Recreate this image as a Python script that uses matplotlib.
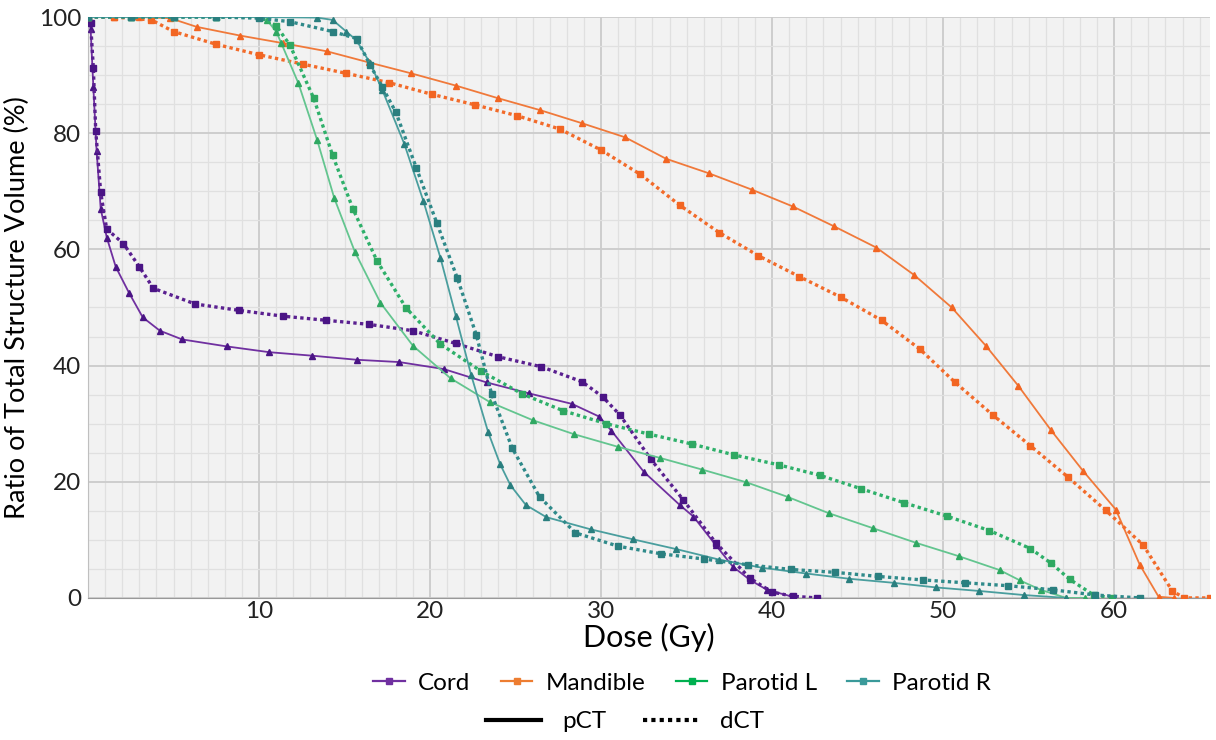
import numpy as np
import matplotlib
matplotlib.use('Agg')
import matplotlib.pyplot as plt
from matplotlib.lines import Line2D
from matplotlib.ticker import MultipleLocator

plt.rcParams['font.family'] = ['Lato', 'DejaVu Sans']

# Cord
cord_p_x = [0, 0.15, 0.31, 0.5, 0.74, 1.1, 1.62, 2.4, 3.2, 4.2, 5.5, 8.1, 10.6, 13.1, 15.7, 18.2,
            20.8, 23.3, 25.8, 28.3, 29.9, 30.6, 32.5, 34.6, 35.4, 36.7, 37.7, 38.7, 39.7, 41.2]
cord_p_y = [100, 98, 88, 77, 67, 62, 57, 52.5, 48.3, 46, 44.5, 43.3, 42.3, 41.7, 41.0, 40.6,
            39.4, 37.1, 35.2, 33.4, 31.2, 28.8, 21.7, 16.0, 14.0, 9.1, 5.4, 3.1, 1.4, 0.2]
cord_d_x = [0, 0.15, 0.31, 0.45, 0.74, 1.09, 2.07, 3.0, 3.82, 6.26, 8.83, 11.4, 13.9, 16.4, 19.0,
            21.5, 24.0, 26.5, 28.9, 30.1, 31.1, 32.9, 34.8, 36.7, 38.7, 40.0, 41.2, 42.6]
cord_d_y = [100, 99, 91.2, 80.4, 69.8, 63.5, 61.0, 57, 53.3, 50.6, 49.5, 48.5, 47.8, 47.1, 46.0,
            43.8, 41.5, 39.8, 37.2, 34.6, 31.5, 23.9, 16.9, 9.5, 3.4, 1.0, 0.3, 0]

# Mandible
mand_p_x = [0, 1.5, 3.0, 4.8, 6.36, 8.9, 11.4, 13.96, 16.4, 18.9, 21.5, 24.0, 26.4, 28.9, 31.4,
            33.8, 36.3, 38.8, 41.2, 43.6, 46.1, 48.3, 50.5, 52.5, 54.4, 56.3, 58.2, 60.1, 61.5,
            62.6, 63.5]
mand_p_y = [100, 100, 100, 99.8, 98.3, 96.8, 95.5, 94.1, 92.2, 90.3, 88.2, 86.0, 84.0, 81.7, 79.3,
            75.6, 73.1, 70.3, 67.4, 64.0, 60.3, 55.6, 50.0, 43.4, 36.5, 28.9, 21.8, 15.2, 5.7,
            0.2, 0]
mand_d_x = [0, 1.5, 3.7, 5.0, 7.5, 10.0, 12.55, 15.1, 17.6, 20.1, 22.6, 25.1, 27.6, 30.0, 32.3,
            34.6, 36.9, 39.2, 41.6, 44.0, 46.4, 48.65, 50.7, 52.9, 55.1, 57.3, 59.5, 61.7, 63.4,
            64.1, 65.6]
mand_d_y = [100, 100, 99.5, 97.5, 95.3, 93.5, 91.9, 90.3, 88.7, 86.7, 84.9, 83.0, 80.7, 77.1, 72.9,
            67.6, 62.9, 58.9, 55.3, 51.8, 47.8, 42.8, 37.1, 31.5, 26.2, 20.8, 15.1, 9.1, 1.2,
            0, 0]

# Parotid L
parl_p_x = [0, 2.5, 5, 7.5, 10.0, 10.45, 11.0, 11.3, 12.3, 13.4, 14.4, 15.6, 17.1, 19.0, 21.2,
            23.5, 26.0, 28.4, 31.0, 33.45, 35.9, 38.5, 40.9, 43.3, 45.9, 48.4, 50.9, 53.3, 54.5,
            55.7, 57.2, 58.3]
parl_p_y = [100, 100, 100, 100, 100, 99.5, 97.5, 95.5, 88.6, 78.8, 68.8, 59.6, 50.8, 43.4, 37.8,
            33.7, 30.6, 28.2, 26.0, 24.1, 22.1, 19.9, 17.4, 14.6, 12.0, 9.5, 7.2, 4.8, 3.0,
            1.4, 0, 0]
parl_d_x = [0, 2.5, 5, 7.5, 10.1, 11.0, 11.8, 13.2, 14.3, 15.5, 16.9, 18.6, 20.6, 23.0, 25.4,
            27.8, 30.3, 32.8, 35.3, 37.8, 40.4, 42.8, 45.2, 47.7, 50.2, 52.7, 55.1, 56.3, 57.4,
            58.8, 59.9]
parl_d_y = [100, 100, 100, 100, 100, 98.5, 95.2, 86.0, 76.2, 66.9, 58.0, 49.9, 43.7, 39.0, 35.1,
            32.2, 30.0, 28.2, 26.5, 24.6, 22.9, 21.1, 18.8, 16.4, 14.1, 11.6, 8.5, 6.0, 3.2,
            0.5, 0]

# Parotid R
parr_p_x = [0, 2.5, 5, 7.5, 10, 13.4, 14.3, 15.1, 15.7, 16.5, 17.2, 18.5, 19.6, 20.6, 21.5, 22.4,
            23.4, 24.1, 24.7, 25.6, 26.8, 29.4, 31.85, 34.4, 36.9, 39.4, 42.0, 44.5, 47.1, 49.6,
            52.1, 54.7, 57.2]
parr_p_y = [100, 100, 100, 100, 100, 99.9, 99.5, 97.5, 96.0, 92.0, 87.5, 78.1, 68.4, 58.6, 48.6,
            38.4, 28.5, 23, 19.4, 16, 13.9, 11.8, 10.1, 8.4, 6.6, 5.2, 4.2, 3.3, 2.6, 1.8,
            1.2, 0.5, 0]
parr_d_x = [0, 2.5, 5, 7.5, 10, 11.8, 14.3, 15.7, 16.5, 17.2, 18.0, 19.2, 20.4, 21.6, 22.7, 23.6,
            24.8, 26.4, 28.5, 31.0, 33.5, 36.0, 38.6, 41.1, 43.7, 46.2, 48.8, 51.3, 53.8, 56.4,
            58.9, 61.5]
parr_d_y = [100, 100, 100, 100, 99.8, 99.2, 97.5, 96.3, 91.7, 88, 83.6, 74.0, 64.5, 55.0, 45.3,
            35.1, 25.8, 17.4, 11.2, 8.9, 7.6, 6.7, 5.7, 4.9, 4.4, 3.7, 3.1, 2.6, 2.1, 1.4,
            0.5, 0]

names = ['Cord', 'Mandible', 'Parotid L', 'Parotid R']
legend_colors = ['#7030A0', '#ED7D31', '#00B050', '#3A9A9A']

dotted = (0, (1, 1))
fig = plt.figure(figsize=(12.16, 7.4), dpi=100)
ax = fig.add_axes([0.0724, 0.192, 0.9226, 0.785])
ax.set_facecolor('#F2F2F2')

# pCT: x, y, line colour, marker colour; dCT: x, y, line colour
curves = [
    (cord_p_x, cord_p_y, '#7030A0', '#4A1485', cord_d_x, cord_d_y, '#5A2090'),
    (mand_p_x, mand_p_y, '#F0793A', '#F26522', mand_d_x, mand_d_y, '#F26B2A'),
    (parl_p_x, parl_p_y, '#63C58F', '#2FA862', parl_d_x, parl_d_y, '#2EB06A'),
    (parr_p_x, parr_p_y, '#4A9E9E', '#2A7F7F', parr_d_x, parr_d_y, '#2F8A8A'),
]
for px, py, lc, mc, dx, dy, dc in curves:
    ax.plot(px, py, '-', color=lc, lw=1.3, marker='^', ms=4, mfc=mc, mec=mc, zorder=3)
    ax.plot(dx, dy, linestyle=dotted, color=dc, lw=2.4, marker='s', ms=4.5, mfc=mc, mec=mc, zorder=3)

ax.set_xlim(0, 65.6)
ax.set_ylim(0, 100)
ax.xaxis.set_major_locator(MultipleLocator(10))
ax.xaxis.set_minor_locator(MultipleLocator(1))
ax.yaxis.set_major_locator(MultipleLocator(20))
ax.yaxis.set_minor_locator(MultipleLocator(5))
ax.grid(which='major', color='#CBCBCB', lw=1.3)
ax.grid(which='minor', color='#E0E0E0', lw=0.9)
ax.set_axisbelow(True)
ax.tick_params(which='both', length=0, labelsize=17.5, colors='#222222')
ax.tick_params(axis='x', pad=2)
ax.tick_params(axis='y', pad=5)
ax.set_xticks([10, 20, 30, 40, 50, 60])
for s in ['top', 'right']:
    ax.spines[s].set_visible(False)
ax.spines['left'].set_color('#BFBFBF')
ax.spines['bottom'].set_color('#999999')

ax.set_xlabel('Dose (Gy)', fontsize=22, labelpad=1)
ax.set_ylabel('Ratio of Total Structure Volume (%)', fontsize=19.5)
ax.yaxis.set_label_coords(-0.052, 0.5)

h1 = [Line2D([], [], color=c, lw=1.6, marker='s', ms=5) for c in legend_colors]
fig.legend(h1, names, loc='center', bbox_to_anchor=(0.561, 0.077), ncol=4, frameon=False,
           fontsize=17.5, handlelength=1.3, columnspacing=1.25, handletextpad=0.55)
h2 = [Line2D([], [], color='black', lw=3), Line2D([], [], color='black', lw=3, linestyle=dotted)]
fig.legend(h2, ['pCT', 'dCT'], loc='center', bbox_to_anchor=(0.514, 0.025), ncol=2, frameon=False,
           fontsize=17.5, handlelength=2.25, columnspacing=1.5, handletextpad=0.9)

fig.savefig('out.png', dpi=100)
